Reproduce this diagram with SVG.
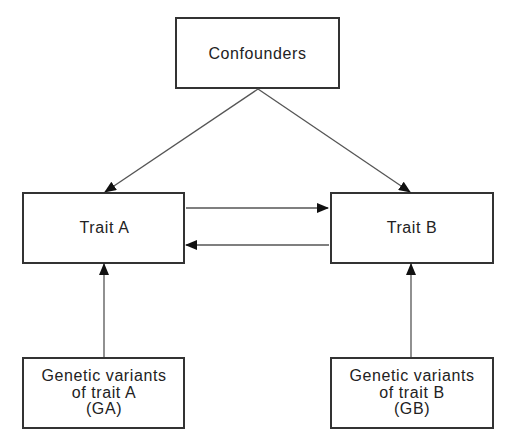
<svg xmlns="http://www.w3.org/2000/svg" width="527" height="436" viewBox="0 0 527 436">
<style>
.box{fill:#fff;stroke:#333;stroke-width:2}
.lbl{font-family:"Liberation Sans",Arial,sans-serif;font-size:16px;letter-spacing:0.6px;fill:#222;text-anchor:middle}
.edge{stroke:#555;stroke-width:1.3;fill:none}
</style>
<defs>
<marker id="ah" markerWidth="12" markerHeight="10" refX="11" refY="5" orient="auto" markerUnits="userSpaceOnUse">
<path d="M0,0 L12,5 L0,10 Z" fill="#111"/>
</marker>
</defs>
<rect width="527" height="436" fill="#fff"/>
<g id="confounders"><rect class="box" x="176" y="18" width="163" height="70"/><text class="lbl" x="257.5" y="59">Confounders</text></g>
<g id="traitA"><rect class="box" x="23" y="193" width="161" height="70"/><text class="lbl" x="104.5" y="233">Trait A</text></g>
<g id="traitB"><rect class="box" x="331" y="193" width="162" height="70"/><text class="lbl" x="412" y="233">Trait B</text></g>
<g id="GA"><rect class="box" x="23" y="358" width="161" height="70"/><text class="lbl" x="104" y="381">Genetic variants</text><text class="lbl" x="104" y="397.5">of trait A</text><text class="lbl" x="104" y="414">(GA)</text></g>
<g id="GB"><rect class="box" x="331" y="358" width="162" height="70"/><text class="lbl" x="412" y="381">Genetic variants</text><text class="lbl" x="412" y="397.5">of trait B</text><text class="lbl" x="412" y="414">(GB)</text></g>
<g id="connectors">
<line class="edge" x1="258" y1="89" x2="105" y2="192" marker-end="url(#ah)"/>
<line class="edge" x1="258" y1="89" x2="410" y2="192" marker-end="url(#ah)"/>
<line class="edge" x1="186" y1="208" x2="328" y2="208" marker-end="url(#ah)"/>
<line class="edge" x1="329" y1="245" x2="186" y2="245" marker-end="url(#ah)"/>
<line class="edge" x1="104" y1="357" x2="104" y2="264" marker-end="url(#ah)"/>
<line class="edge" x1="411" y1="357" x2="411" y2="264" marker-end="url(#ah)"/>
</g>
</svg>
